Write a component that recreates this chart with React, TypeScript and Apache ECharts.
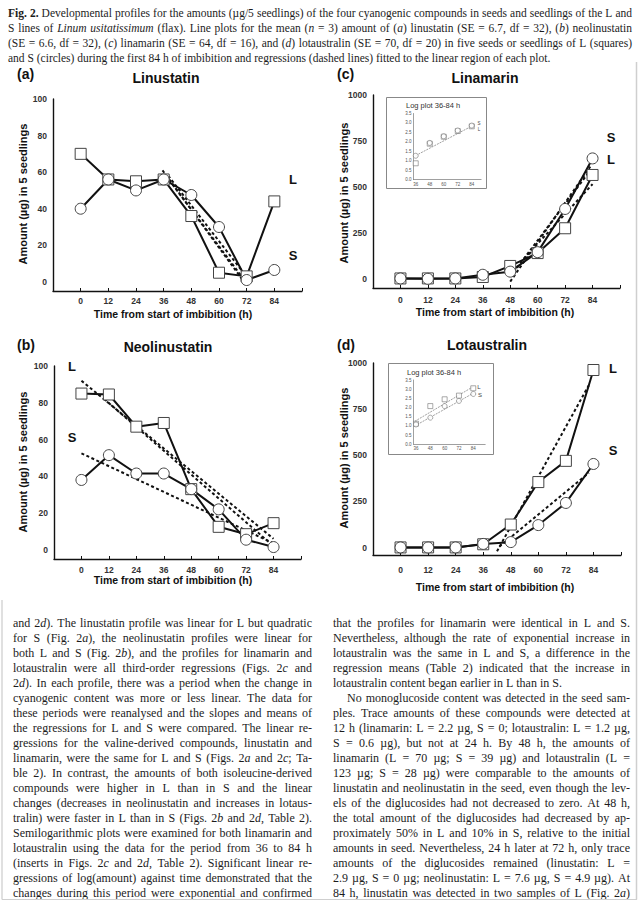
import React, { useEffect, useRef } from "react";
import * as echarts from "echarts";

// ---------------- Data ----------------
const hours = [0, 12, 24, 36, 48, 60, 72, 84];
const xTickLabels = ["0", "12", "24", "36", "48", "60", "72", "84"];

const linustatinL = [70, 56, 55, 56, 36, 5, 3, 44];
const linustatinS = [40, 56, 50, 56, 47.5, 30, 1, 6.5];
const linustatinFit1 = [[35.5, 61], [72, -2]];
const linustatinFit2 = [[37, 58], [71, 1]];
const linustatinFit3 = [[38, 58], [70, 6]];

const neolinustatinL = [85, 84.5, 67, 69, 33, 12.5, 8.5, 14.5];
const neolinustatinS = [38, 51.5, 41.5, 41.5, 33, 22, 5.5, 1.5];
const neolinustatinFitL1 = [[0, 92], [84, 6]];
const neolinustatinFitL2 = [[10, 82], [84, 2]];
const neolinustatinFitS = [[0, 52.5], [84, 3.5]];

const linamarinL = [2, 2.2, 2, 10, 70, 140, 275, 565];
const linamarinS = [2, 0, 2, 22, 39, 145, 380, 655];
const linamarinFit1 = [[48, -15], [83, 610]];
const linamarinFit2 = [[51, 60], [83, 590]];
const linamarinFit3 = [[54, 110], [84, 515]];

const lotaustralinL = [1, 1.2, 1, 18, 125, 355, 470, 962];
const lotaustralinS = [1, 0.6, 1, 20, 30, 122, 242, 453];
const lotaustralinFitL = [[42, -20], [82, 880]];
const lotaustralinFitS = [[43, 5], [82, 405]];

const insetHours = [36, 48, 60, 72, 84];
const linamarinLogL = [0.86, 1.9, 2.27, 2.57, 2.82];
const linamarinLogS = [1.26, 1.94, 2.29, 2.6, 2.86];
const linamarinLogFit = [[36, 1.27], [84, 2.83]];
const lotaustralinLogL = [1.12, 2.08, 2.45, 2.65, 3.05];
const lotaustralinLogS = [1.08, 1.45, 2.08, 2.36, 2.74];
const lotaustralinLogFitL = [[35, 1.25], [84, 3.14]];
const lotaustralinLogFitS = [[35, 1.0], [84, 2.78]];

const captionLines = [
  "*Fig. 2.* Developmental profiles for the amounts (µg/5 seedlings) of the four cyanogenic compounds in seeds and seedlings of the L and",
  "S lines of _Linum usitatissimum_ (flax). Line plots for the mean (_n_ = 3) amount of (_a_) linustatin (SE = 6.7, df = 32), (_b_) neolinustatin",
  "(SE = 6.6, df = 32), (_c_) linamarin (SE = 64, df = 16), and (_d_) lotaustralin (SE = 70, df = 20) in five seeds or seedlings of L (squares)",
  "and S (circles) during the first 84 h of imbibition and regressions (dashed lines) fitted to the linear region of each plot.",
];

const leftColumnLines = [
  "and 2_d_). The linustatin profile was linear for L but quadratic",
  "for S (Fig. 2_a_), the neolinustatin profiles were linear for",
  "both L and S (Fig. 2_b_), and the profiles for linamarin and",
  "lotaustralin were all third-order regressions (Figs. 2_c_ and",
  "2_d_). In each profile, there was a period when the change in",
  "cyanogenic content was more or less linear. The data for",
  "these periods were reanalysed and the slopes and means of",
  "the regressions for L and S were compared. The linear re-",
  "gressions for the valine-derived compounds, linustatin and",
  "linamarin, were the same for L and S (Figs. 2_a_ and 2_c_; Ta-",
  "ble 2). In contrast, the amounts of both isoleucine-derived",
  "compounds were higher in L than in S and the linear",
  "changes (decreases in neolinustatin and increases in lotaus-",
  "tralin) were faster in L than in S (Figs. 2_b_ and 2_d_, Table 2).",
  "Semilogarithmic plots were examined for both linamarin and",
  "lotaustralin using the data for the period from 36 to 84 h",
  "(inserts in Figs. 2_c_ and 2_d_, Table 2). Significant linear re-",
  "gressions of log(amount) against time demonstrated that the",
  "changes during this period were exponential and confirmed",
];

const rightColumnLines = [
  "that the profiles for linamarin were identical in L and S.",
  "Nevertheless, although the rate of exponential increase in",
  "lotaustralin was the same in L and S, a difference in the",
  "regression means (Table 2) indicated that the increase in",
  "lotaustralin content began earlier in L than in S.",
  "No monoglucoside content was detected in the seed sam-",
  "ples. Trace amounts of these compounds were detected at",
  "12 h (linamarin: L = 2.2 µg, S = 0; lotaustralin: L = 1.2 µg,",
  "S = 0.6 µg), but not at 24 h. By 48 h, the amounts of",
  "linamarin (L = 70 µg; S = 39 µg) and lotaustralin (L =",
  "123 µg; S = 28 µg) were comparable to the amounts of",
  "linustatin and neolinustatin in the seed, even though the lev-",
  "els of the diglucosides had not decreased to zero. At 48 h,",
  "the total amount of the diglucosides had decreased by ap-",
  "proximately 50% in L and 10% in S, relative to the initial",
  "amounts in seed. Nevertheless, 24 h later at 72 h, only trace",
  "amounts of the diglucosides remained (linustatin: L =",
  "2.9 µg, S = 0 µg; neolinustatin: L = 7.6 µg, S = 4.9 µg). At",
  "84 h, linustatin was detected in two samples of L (Fig. 2_a_)",
];
const rightColumnUnjustified = [4];
const rightColumnIndented = [5];

// ---------------- Text helpers ----------------
const SERIF = "Liberation Serif";
const SANS = "Liberation Sans";
const INK = "#1c1c1c";

let mctx: CanvasRenderingContext2D | null = null;
function measure(t: string, size: number, family: string, italic: boolean, bold: boolean) {
  if (!mctx) mctx = document.createElement("canvas").getContext("2d");
  mctx!.font = `${italic ? "italic " : ""}${bold ? "bold " : ""}${size}px "${family}"`;
  return mctx!.measureText(t).width;
}

type Seg = { t: string; i: boolean; b: boolean };
function parseWords(line: string): Seg[][] {
  let italic = false;
  let bold = false;
  return line
    .split(" ")
    .filter((w) => w.length > 0)
    .map((w) => {
      const segs: Seg[] = [];
      let cur = "";
      for (const ch of w) {
        if (ch === "_" || ch === "*") {
          if (cur) segs.push({ t: cur, i: italic, b: bold });
          cur = "";
          if (ch === "_") italic = !italic;
          else bold = !bold;
        } else cur += ch;
      }
      if (cur) segs.push({ t: cur, i: italic, b: bold });
      return segs;
    });
}

function textLine(line: string, x: number, y: number, width: number, size: number, justify: boolean) {
  const words = parseWords(line);
  const segW = words.map((w) => w.map((s) => measure(s.t, size, SERIF, s.i, s.b)));
  const wordW = segW.map((a) => a.reduce((p, c) => p + c, 0));
  const total = wordW.reduce((p, c) => p + c, 0);
  const space = measure(" ", size, SERIF, false, false);
  const n = words.length;
  let gap = space;
  let scale = 1;
  const natural = total + space * (n - 1);
  if (natural > width) {
    scale = width / natural;
    gap = space * scale;
  } else if (justify && n > 1) {
    gap = (width - total) / (n - 1);
  }
  const els: any[] = [];
  let cx = x;
  words.forEach((w, wi) => {
    w.forEach((s, si) => {
      els.push({
        type: "text",
        x: cx,
        y,
        scaleX: scale,
        silent: true,
        style: {
          text: s.t,
          fill: INK,
          fontSize: size,
          fontFamily: SERIF,
          fontStyle: s.i ? "italic" : "normal",
          fontWeight: s.b ? "bold" : "normal",
          align: "left",
          verticalAlign: "middle",
          textAlign: "left",
          textVerticalAlign: "middle",
        },
      });
      cx += segW[wi][si] * scale;
    });
    cx += gap;
  });
  return els;
}

function label(text: string, x: number, y: number, size: number, opts: any = {}) {
  return {
    type: "text",
    x,
    y,
    rotation: opts.rotation || 0,
    silent: true,
    style: {
      text,
      fill: opts.color || "#111",
      fontSize: size,
      fontFamily: opts.family || SANS,
      fontWeight: opts.weight || "bold",
      align: opts.align || "center",
      verticalAlign: "middle",
      textAlign: opts.align || "center",
      textVerticalAlign: "middle",
    },
  };
}

// ---------------- Chart helpers ----------------
function pairs(xs: number[], ys: number[]) {
  return xs.map((h, i) => [h, ys[i]]);
}

function mainX(gridIndex: number, margin: number) {
  return {
    type: "value",
    gridIndex,
    min: -12,
    max: 96,
    interval: 12,
    axisLine: { show: true, onZero: false, lineStyle: { color: "#111", width: 1.4 } },
    axisTick: { show: true, inside: true, length: 3, lineStyle: { color: "#111", width: 1 } },
    axisLabel: {
      margin,
      fontSize: 8.5,
      fontWeight: "bold",
      fontFamily: SANS,
      color: "#333",
      formatter: (v: number) => {
        const i = hours.indexOf(Math.round(v));
        return i >= 0 ? xTickLabels[i] : "";
      },
    },
    splitLine: { show: false },
  };
}

function mainY(gridIndex: number, min: number, max: number, interval: number, step: number) {
  return {
    type: "value",
    gridIndex,
    min,
    max,
    interval,
    axisLine: { show: true, onZero: false, lineStyle: { color: "#111", width: 1.4 } },
    axisTick: { show: false },
    axisLabel: {
      margin: 6,
      fontSize: 8.5,
      fontWeight: "bold",
      fontFamily: SANS,
      color: "#333",
      formatter: (v: number) => {
        const r = Math.round(v);
        return r >= 0 && r % step === 0 ? String(r) : "";
      },
    },
    splitLine: { show: false },
  };
}

function insetX(gridIndex: number, max: number) {
  return {
    type: "value",
    gridIndex,
    min: 34,
    max,
    interval: 2,
    axisLine: { show: true, onZero: false, lineStyle: { color: "#777", width: 0.7 } },
    axisTick: { show: false },
    axisLabel: {
      margin: 2,
      fontSize: 4.5,
      fontFamily: SANS,
      color: "#555",
      formatter: (v: number) => {
        const r = Math.round(v);
        return insetHours.indexOf(r) >= 0 ? String(r) : "";
      },
    },
    splitLine: { show: false },
  };
}

function insetY(gridIndex: number) {
  return {
    type: "value",
    gridIndex,
    min: 0,
    max: 3.5,
    interval: 0.5,
    axisLine: { show: true, onZero: false, lineStyle: { color: "#777", width: 0.7 } },
    axisTick: { show: false },
    axisLabel: {
      margin: 2,
      fontSize: 4.5,
      fontFamily: SANS,
      color: "#555",
      formatter: (v: number) => v.toFixed(1),
    },
    splitLine: { show: false },
  };
}

function fitSeries(idx: number, data: number[][]) {
  return {
    type: "line",
    xAxisIndex: idx,
    yAxisIndex: idx,
    data,
    symbol: "none",
    silent: true,
    z: 2,
    lineStyle: { color: "#111", width: 2, type: [3, 2.5] },
  };
}

function dataSeries(idx: number, ys: number[], symbol: string) {
  return {
    type: "line",
    xAxisIndex: idx,
    yAxisIndex: idx,
    data: pairs(hours, ys),
    symbol,
    symbolSize: 11,
    silent: true,
    z: 3,
    lineStyle: { color: "#111", width: 2 },
    itemStyle: { color: "#fff", borderColor: "#444", borderWidth: 1 },
  };
}

function insetPoints(idx: number, ys: number[], symbol: string) {
  return {
    type: "scatter",
    xAxisIndex: idx,
    yAxisIndex: idx,
    data: pairs(insetHours, ys),
    symbol,
    symbolSize: 5,
    silent: true,
    z: 4,
    itemStyle: { color: "#fff", borderColor: "#666", borderWidth: 0.7 },
  };
}

function insetFit(idx: number, data: number[][]) {
  return {
    type: "line",
    xAxisIndex: idx,
    yAxisIndex: idx,
    data,
    symbol: "none",
    silent: true,
    z: 3,
    lineStyle: { color: "#777", width: 0.7, type: [2, 1] },
  };
}

function buildOption() {
  const graphic: any[] = [];

  // caption
  const capY = [13, 28, 43, 58];
  captionLines.forEach((l, i) => {
    graphic.push(...textLine(l, 8, capY[i], 624, 11.5, i < captionLines.length - 1));
  });

  // body text
  leftColumnLines.forEach((l, i) => {
    graphic.push(...textLine(l, 13, 622.5 + 15 * i, 299, 12, true));
  });
  rightColumnLines.forEach((l, i) => {
    const indent = rightColumnIndented.indexOf(i) >= 0 ? 14 : 0;
    const just = rightColumnUnjustified.indexOf(i) < 0;
    graphic.push(...textLine(l, 333 + indent, 623 + 15 * i, 297 - indent, 12, just));
  });

  // panel titles and letters
  graphic.push(label("(a)", 17, 74, 14, { align: "left" }));
  graphic.push(label("Linustatin", 166, 78, 14));
  graphic.push(label("(c)", 337, 74, 14, { align: "left" }));
  graphic.push(label("Linamarin", 485, 78, 14));
  graphic.push(label("(b)", 17, 345, 14, { align: "left" }));
  graphic.push(label("Neolinustatin", 168, 347, 14));
  graphic.push(label("(d)", 337, 345, 14, { align: "left" }));
  graphic.push(label("Lotaustralin", 487, 345, 14));

  // axis names
  const yName = "Amount (µg) in 5 seedlings";
  const xName = "Time from start of imbibition (h)";
  graphic.push(label(yName, 23, 194, 11, { rotation: Math.PI / 2 }));
  graphic.push(label(yName, 23, 462, 11, { rotation: Math.PI / 2 }));
  graphic.push(label(yName, 344, 193, 11, { rotation: Math.PI / 2 }));
  graphic.push(label(yName, 344, 458, 11, { rotation: Math.PI / 2 }));
  graphic.push(label(xName, 173, 314, 10.5));
  graphic.push(label(xName, 173, 580, 10.5));
  graphic.push(label(xName, 495, 312, 10.5));
  graphic.push(label(xName, 495, 587, 10.5));

  // L / S labels
  graphic.push(label("L", 293, 179, 13));
  graphic.push(label("S", 293, 255, 13));
  graphic.push(label("L", 72, 366, 13));
  graphic.push(label("S", 72, 437, 13));
  graphic.push(label("S", 611, 137, 13));
  graphic.push(label("L", 611, 159, 13));
  graphic.push(label("L", 613, 368, 13));
  graphic.push(label("S", 613, 450, 13));

  // insets: frames, titles, labels
  graphic.push({
    type: "rect",
    silent: true,
    shape: { x: 386.5, y: 97.5, width: 100, height: 91 },
    style: { fill: "none", stroke: "#888", lineWidth: 1 },
  });
  graphic.push({
    type: "rect",
    silent: true,
    shape: { x: 388.5, y: 363.5, width: 105, height: 91 },
    style: { fill: "none", stroke: "#888", lineWidth: 1 },
  });
  graphic.push(label("Log plot 36-84 h", 406, 105, 7.5, { align: "left", weight: "normal", color: "#333" }));
  graphic.push(label("Log plot 36-84 h", 407, 372.5, 7.5, { align: "left", weight: "normal", color: "#333" }));
  graphic.push(label("S", 479, 123, 4.5, { weight: "normal", color: "#444" }));
  graphic.push(label("L", 479, 129, 4.5, { weight: "normal", color: "#444" }));
  graphic.push(label("L", 479, 386.5, 6, { weight: "normal", color: "#444" }));
  graphic.push(label("S", 480, 395, 6, { weight: "normal", color: "#444" }));

  // page edges of the scan
  graphic.push({ type: "line", silent: true, shape: { x1: 636.5, y1: 62, x2: 636.5, y2: 899.5 }, style: { stroke: "#cfcfcf", lineWidth: 1.5 } });
  graphic.push({ type: "line", silent: true, shape: { x1: 2, y1: 600, x2: 2, y2: 899.5 }, style: { stroke: "#d6d6d6", lineWidth: 1.5 } });
  graphic.push({ type: "line", silent: true, shape: { x1: 2, y1: 899.5, x2: 637, y2: 899.5 }, style: { stroke: "#cfcfcf", lineWidth: 1 } });

  return {
    animation: false,
    backgroundColor: "#ffffff",
    grid: [
      { left: 53, top: 99, width: 249, height: 192 },
      { left: 54, top: 366, width: 247, height: 193 },
      { left: 373, top: 95, width: 247, height: 193 },
      { left: 373, top: 363, width: 248, height: 192 },
      { left: 413.4, top: 113.5, width: 67.7, height: 66 },
      { left: 413.6, top: 380, width: 71.6, height: 64.3 },
    ],
    xAxis: [mainX(0, 5), mainX(1, 6), mainX(2, 7), mainX(3, 10), insetX(4, 92), insetX(5, 94)],
    yAxis: [
      mainY(0, -5, 100, 1, 20),
      mainY(1, -5, 100, 1, 20),
      mainY(2, -50, 1000, 10, 250),
      mainY(3, -40, 1000, 10, 250),
      insetY(4),
      insetY(5),
    ],
    series: [
      fitSeries(0, linustatinFit1),
      fitSeries(0, linustatinFit2),
      fitSeries(0, linustatinFit3),
      dataSeries(0, linustatinL, "rect"),
      dataSeries(0, linustatinS, "circle"),

      fitSeries(1, neolinustatinFitL1),
      fitSeries(1, neolinustatinFitL2),
      fitSeries(1, neolinustatinFitS),
      dataSeries(1, neolinustatinL, "rect"),
      dataSeries(1, neolinustatinS, "circle"),

      fitSeries(2, linamarinFit1),
      fitSeries(2, linamarinFit2),
      fitSeries(2, linamarinFit3),
      dataSeries(2, linamarinL, "rect"),
      dataSeries(2, linamarinS, "circle"),

      fitSeries(3, lotaustralinFitL),
      fitSeries(3, lotaustralinFitS),
      dataSeries(3, lotaustralinL, "rect"),
      dataSeries(3, lotaustralinS, "circle"),

      insetFit(4, linamarinLogFit),
      insetPoints(4, linamarinLogL, "rect"),
      insetPoints(4, linamarinLogS, "circle"),

      insetFit(5, lotaustralinLogFitL),
      insetFit(5, lotaustralinLogFitS),
      insetPoints(5, lotaustralinLogL, "rect"),
      insetPoints(5, lotaustralinLogS, "circle"),
    ],
    graphic,
  };
}

export default function App() {
  const ref = useRef<HTMLDivElement>(null);
  useEffect(() => {
    if (!ref.current) return;
    const chart = echarts.init(ref.current, undefined, { renderer: "svg" });
    chart.setOption(buildOption() as any);
    return () => chart.dispose();
  }, []);
  return (
    <div
      ref={ref}
      style={{ position: "absolute", left: 0, top: 0, width: 640, height: 900, background: "#fff" }}
    />
  );
}
